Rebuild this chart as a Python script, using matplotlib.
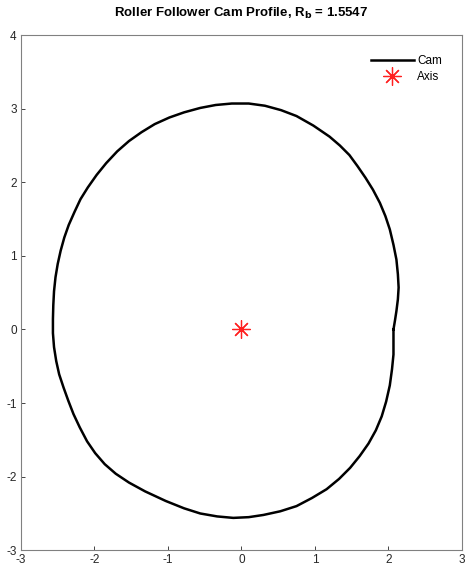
import matplotlib
matplotlib.use("Agg")
import matplotlib.pyplot as plt

# cam profile points, counter-clockwise from the kink
cam_x = [2.07, 2.09, 2.11, 2.13, 2.14, 2.13, 2.11, 2.07, 2.02, 1.96, 1.885,
         1.79, 1.69, 1.58, 1.47, 1.34, 1.20, 0.98, 0.75, 0.54, 0.32, 0.10,
         -0.13, -0.35, -0.56, -0.78, -0.98, -1.18, -1.36, -1.53, -1.69, -1.84,
         -1.97, -2.09, -2.19, -2.27, -2.35, -2.41, -2.46, -2.50, -2.53, -2.55,
         -2.56, -2.565, -2.565, -2.55, -2.52, -2.48, -2.42, -2.355, -2.285, -2.20,
         -2.10, -1.99, -1.86, -1.71, -1.53, -1.31, -1.03, -0.78, -0.56, -0.33,
         -0.11, 0.10, 0.30, 0.53, 0.75, 0.96, 1.16, 1.33, 1.48, 1.61, 1.73,
         1.83, 1.91, 1.97, 2.02, 2.05, 2.07, 2.07, 2.07]
cam_y = [0.00, 0.12, 0.25, 0.41, 0.57, 0.75, 0.95, 1.15, 1.36, 1.54, 1.72,
         1.90, 2.06, 2.22, 2.37, 2.50, 2.62, 2.77, 2.90, 2.98, 3.04, 3.07,
         3.07, 3.05, 3.01, 2.95, 2.88, 2.79, 2.68, 2.56, 2.42, 2.26,
         2.10, 1.93, 1.77, 1.60, 1.42, 1.25, 1.07, 0.89, 0.71, 0.52,
         0.33, 0.14, -0.05, -0.24, -0.43, -0.61, -0.79, -0.97, -1.15, -1.33,
         -1.52, -1.68, -1.83, -1.96, -2.08, -2.20, -2.33, -2.43, -2.50, -2.54,
         -2.56, -2.55, -2.52, -2.47, -2.40, -2.29, -2.17, -2.03, -1.88, -1.72,
         -1.55, -1.37, -1.18, -0.98, -0.76, -0.54, -0.34, -0.15, 0.00]
axis_x = [0.0]
axis_y = [0.0]
base_radius = 1.5547

plt.rcParams["font.family"] = ["Liberation Sans", "DejaVu Sans"]
plt.rcParams["axes.unicode_minus"] = False

fig = plt.figure(figsize=(4.66, 5.75), dpi=100)
ax = fig.add_axes([0.045, 0.043, 0.946, 0.896])

ax.plot(cam_x, cam_y, color="black", linewidth=1.8, label="Cam",
        solid_joinstyle="round")
ax.plot(axis_x, axis_y, linestyle="none", marker=(8, 2, 0), markersize=13,
        markeredgewidth=0.9, color="#ff2020", label="Axis")

ax.set_xlim(-3, 3)
ax.set_ylim(-3, 4)
ax.set_xticks(range(-3, 4))
ax.set_yticks(range(-3, 5))
ax.tick_params(direction="in", length=3, width=0.6, labelsize=8.5,
               colors="#262626", pad=3)
for side in ax.spines.values():
    side.set_color("#808080")
    side.set_linewidth(0.8)

ax.set_title(f"Roller Follower Cam Profile, R$_\\mathbf{{b}}$ = {base_radius}",
             fontsize=9.5, fontweight="bold", pad=13)

leg = ax.legend(loc="upper right", bbox_to_anchor=(0.955, 0.961),
                frameon=False, fontsize=8.5, handlelength=3.6,
                handletextpad=0.3, labelspacing=0.35, borderpad=0,
                borderaxespad=0)

fig.savefig("out.png", dpi=100, facecolor="white")
